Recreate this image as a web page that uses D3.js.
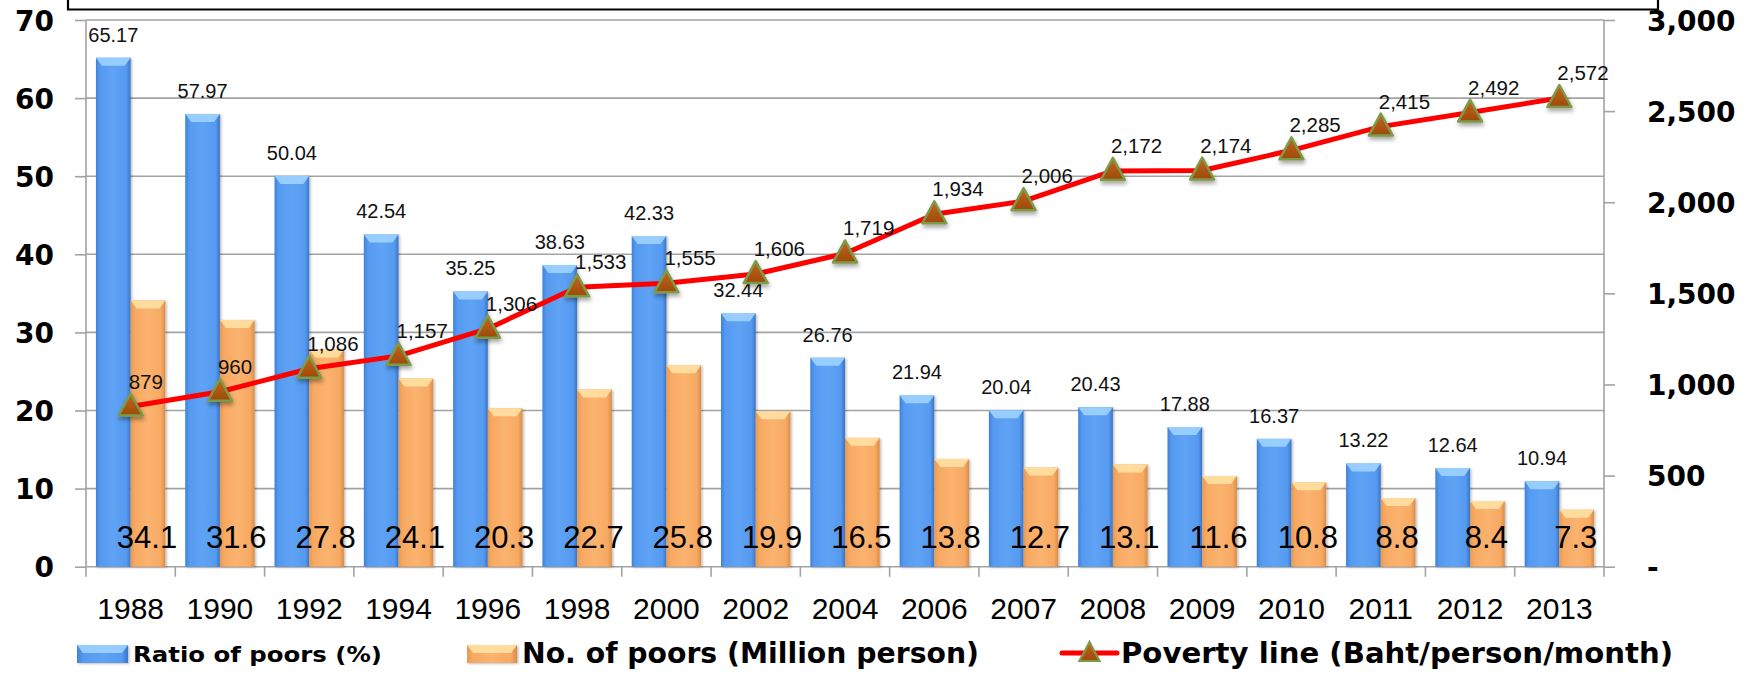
<!DOCTYPE html>
<html><head><meta charset="utf-8">
<script src="https://cdn.jsdelivr.net/npm/d3@7/dist/d3.min.js"></script>
<style>body{margin:0;background:#fff}svg{display:block}</style>
</head><body>
<svg id="c" width="1748" height="679"></svg>
<script>
const years = ["1988","1990","1992","1994","1996","1998","2000","2002","2004","2006","2007","2008","2009","2010","2011","2012","2013"];
const ratioPoors = [65.17,57.97,50.04,42.54,35.25,38.63,42.33,32.44,26.76,21.94,20.04,20.43,17.88,16.37,13.22,12.64,10.94];
const numPoors = [34.1,31.6,27.8,24.1,20.3,22.7,25.8,19.9,16.5,13.8,12.7,13.1,11.6,10.8,8.8,8.4,7.3];
const povertyLine = [879,960,1086,1157,1306,1533,1555,1606,1719,1934,2006,2172,2174,2285,2415,2492,2572];
const leftTicks = [0,10,20,30,40,50,60,70];
const rightTicks = [0,500,1000,1500,2000,2500,3000];
const seriesNames = ["Ratio of poors (%)","No. of poors (Million person)","Poverty line (Baht/person/month)"];

const svg = d3.select("#c");
const L = 86, R = 1604, T = 20, B = 566.7;
const x = d3.scaleBand().domain(years).range([L, R]);
const yL = d3.scaleLinear().domain([0,70]).range([B, T]);
const yR = d3.scaleLinear().domain([0,3000]).range([B, T]);
const bw = 34.7;

const defs = svg.append("defs");
function grad(id, stops){
  const g = defs.append("linearGradient").attr("id", id).attr("x1","0").attr("x2","1").attr("y1","0").attr("y2","0");
  stops.forEach(s => g.append("stop").attr("offset", s[0]).attr("stop-color", s[1]));
}
grad("gBlue", [[0,"#3f82d8"],[0.12,"#559af0"],[0.5,"#5fa3f5"],[0.88,"#559af0"],[1,"#3a74c4"]]);
grad("gOrange", [[0,"#e59a55"],[0.12,"#f7a962"],[0.5,"#fbb36f"],[0.88,"#f7a962"],[1,"#d98c48"]]);
const tg = defs.append("linearGradient").attr("id","gTri").attr("x1","0").attr("x2","0").attr("y1","0").attr("y2","1");
tg.append("stop").attr("offset",0).attr("stop-color","#c4661a");
tg.append("stop").attr("offset",1).attr("stop-color","#9c4a0c");
const f = defs.append("filter").attr("id","sh").attr("x","-50%").attr("y","-50%").attr("width","200%").attr("height","200%");
f.append("feDropShadow").attr("dx",1).attr("dy",3).attr("stdDeviation",2).attr("flood-color","#000").attr("flood-opacity",0.35);
const fb = defs.append("filter").attr("id","shb").attr("x","-20%").attr("y","-20%").attr("width","140%").attr("height","140%");
fb.append("feDropShadow").attr("dx",1.5).attr("dy",1).attr("stdDeviation",1.2).attr("flood-color","#000").attr("flood-opacity",0.25);

// title box remnant
svg.append("path").attr("d","M68,-3V9.5H1658V-3").attr("fill","none").attr("stroke","#000").attr("stroke-width",2.2);

// gridlines
svg.append("g").selectAll("line").data(leftTicks.slice(1)).join("line")
  .attr("x1", L).attr("x2", R).attr("y1", d=>yL(d)).attr("y2", d=>yL(d))
  .attr("stroke","#a3a3a3").attr("stroke-width",1.6);

// left axis
const ax = svg.append("g").attr("transform",`translate(${L},0)`)
  .call(d3.axisLeft(yL).tickValues(leftTicks).tickSize(11).tickPadding(21));
ax.select(".domain").attr("stroke","#a3a3a3").attr("stroke-width",1.6).attr("d",`M0,${B}V${T}`);
ax.selectAll(".tick line").attr("stroke","#a3a3a3").attr("stroke-width",1.6);
ax.selectAll(".tick text").attr("font-family","DejaVu Sans").attr("font-weight","bold").attr("font-size",28).attr("fill","#000").attr("dy","0.36em");

// right axis
const ar = svg.append("g").attr("transform",`translate(${R},0)`)
  .call(d3.axisRight(yR).tickValues(rightTicks).tickSize(11).tickPadding(32).tickFormat(d => d===0 ? "-" : d3.format(",")(d)));
ar.select(".domain").attr("stroke","#a3a3a3").attr("stroke-width",1.6).attr("d",`M0,${B}V${T}`);
ar.selectAll(".tick line").attr("stroke","#a3a3a3").attr("stroke-width",1.6);
ar.selectAll(".tick text").attr("font-family","DejaVu Sans").attr("font-weight","bold").attr("font-size",28).attr("fill","#000").attr("dy","0.36em");

// x axis baseline and ticks at boundaries
svg.append("line").attr("x1",L).attr("x2",R).attr("y1",B).attr("y2",B).attr("stroke","#a3a3a3").attr("stroke-width",1.6);
svg.append("g").selectAll("line").data(years.concat(["end"])).join("line")
  .attr("x1", d => d==="end" ? R : x(d)).attr("x2", d => d==="end" ? R : x(d))
  .attr("y1", B).attr("y2", B+10).attr("stroke","#a3a3a3").attr("stroke-width",1.6);
svg.append("g").selectAll("text").data(years).join("text")
  .attr("x", d => x(d)+x.bandwidth()/2).attr("y", 619).attr("text-anchor","middle")
  .attr("font-family","Liberation Sans").attr("font-size",30).attr("fill","#000").text(d=>d);

function bar(g, x0, y0, w, h, fill, cap){
  g.append("rect").attr("x",x0).attr("y",y0).attr("width",w).attr("height",h).attr("fill",fill).attr("filter","url(#shb)");
  const c = Math.min(8, h);
  g.append("path").attr("d",`M${x0},${y0}H${x0+w}L${x0+w-6},${y0+c}H${x0+6}Z`).attr("fill",cap).attr("opacity",0.9);
}

const bars = svg.append("g");
years.forEach((yr,i) => {
  const cx = x(yr) + x.bandwidth()/2;
  bar(bars, cx-bw, yL(ratioPoors[i]), bw, B-yL(ratioPoors[i]), "url(#gBlue)", "#9fd3ff");
  bar(bars, cx, yL(numPoors[i]), bw, B-yL(numPoors[i]), "url(#gOrange)", "#ffe1a3");
});

// blue value labels
svg.append("g").selectAll("text").data(years).join("text")
  .attr("x",(d)=>x(d)+x.bandwidth()/2-bw/2).attr("y",(d,i)=>yL(ratioPoors[i])-16)
  .attr("text-anchor","middle").attr("font-family","Liberation Sans").attr("font-size",20).attr("fill","#111")
  .text((d,i)=>ratioPoors[i].toFixed(2));
// orange value labels
svg.append("g").selectAll("text").data(years).join("text")
  .attr("x",(d)=>x(d)+x.bandwidth()/2+bw/2-1).attr("y",548)
  .attr("text-anchor","middle").attr("font-family","Liberation Sans").attr("font-size",31).attr("fill","#000")
  .text((d,i)=>numPoors[i].toFixed(1));

// poverty line
const pts = years.map((yr,i)=>[x(yr)+x.bandwidth()/2, yR(povertyLine[i])]);
svg.append("path").attr("d", d3.line()(pts)).attr("fill","none").attr("stroke","#ff0000").attr("stroke-width",5).attr("stroke-linejoin","round");
const tri = "M0,-13L12,9H-12Z";
svg.append("g").selectAll("path").data(pts).join("path")
  .attr("transform",d=>`translate(${d[0]},${d[1]})`).attr("d",tri)
  .attr("fill","url(#gTri)").attr("stroke","#7d9a48").attr("stroke-width",2.5).attr("stroke-linejoin","round").attr("filter","url(#sh)");
svg.append("g").selectAll("text").data(pts).join("text")
  .attr("x",d=>d[0]-2).attr("y",d=>d[1]-18)
  .attr("font-family","Liberation Sans").attr("font-size",20.5).attr("fill","#111")
  .text((d,i)=>d3.format(",")(povertyLine[i]));

// legend
const lg = svg.append("g");
bar(lg, 77, 645, 51, 18, "url(#gBlue)", "#9fd3ff");
lg.append("text").attr("x",133).attr("y",662).attr("font-family","DejaVu Sans").attr("font-weight","bold")
  .attr("font-size",22).attr("textLength",249).attr("lengthAdjust","spacingAndGlyphs").text(seriesNames[0]);
bar(lg, 467, 645, 50, 18, "url(#gOrange)", "#ffe1a3");
lg.append("text").attr("x",522).attr("y",663).attr("font-family","DejaVu Sans").attr("font-weight","bold")
  .attr("font-size",28).attr("textLength",457).attr("lengthAdjust","spacingAndGlyphs").text(seriesNames[1]);
lg.append("line").attr("x1",1062).attr("x2",1117).attr("y1",653).attr("y2",653).attr("stroke","#ff0000").attr("stroke-width",5).attr("stroke-linecap","round");
lg.append("path").attr("transform","translate(1089.5,653)").attr("d","M0,-11L10,8H-10Z").attr("fill","url(#gTri)").attr("stroke","#7d9a48").attr("stroke-width",2.2);
lg.append("text").attr("x",1121).attr("y",663).attr("font-family","DejaVu Sans").attr("font-weight","bold")
  .attr("font-size",28).attr("textLength",552).attr("lengthAdjust","spacingAndGlyphs").text(seriesNames[2]);
</script>
</body></html>
